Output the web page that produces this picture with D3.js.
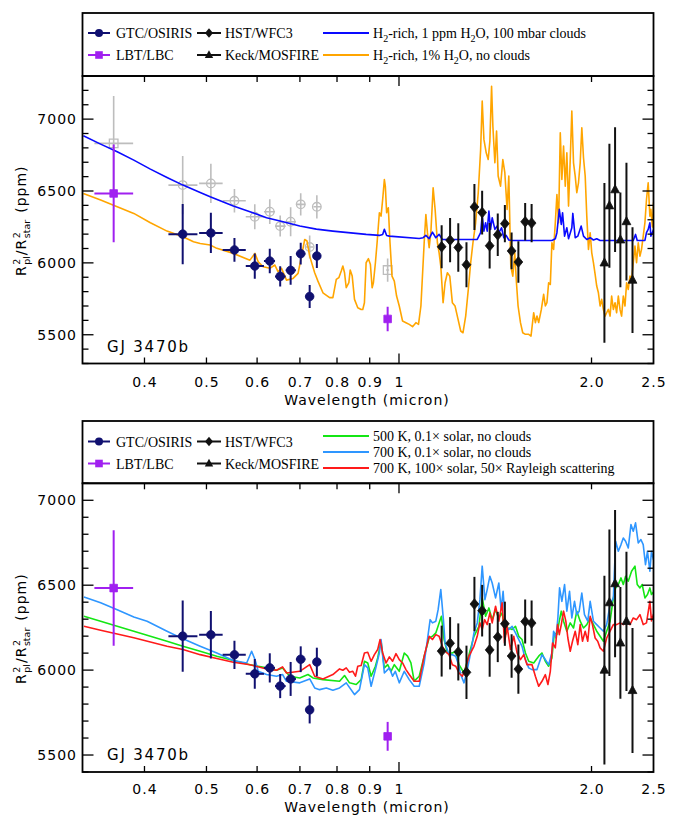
<!DOCTYPE html>
<html>
<head>
<meta charset="utf-8">
<script src="https://cdn.jsdelivr.net/npm/d3@7"></script>
<style>
  body { margin: 0; background: #fff; }
  svg { display: block; }
  .tick-label { font-family: "DejaVu Sans", sans-serif; font-size: 14px; letter-spacing: 1px; fill: #000; }
  .ax-title { font-family: "DejaVu Sans", sans-serif; font-size: 14px; letter-spacing: 1px; fill: #000; white-space: pre; }
  .ax-small { font-family: "DejaVu Sans", sans-serif; font-size: 9.5px; fill: #000; }
  .planet { font-family: "DejaVu Sans", sans-serif; font-size: 15px; letter-spacing: 1.8px; fill: #000; }
  .leg { font-family: "Liberation Serif", serif; font-size: 14px; fill: #000; }
</style>
</head>
<body>
<svg id="chart" width="679" height="816"></svg>
<script>
// ---------------- Observations ----------------
// GTC/OSIRIS spectrophotometric bins
const gtcWave  = [0.459, 0.508, 0.553, 0.595, 0.628, 0.652, 0.677, 0.702, 0.725, 0.744];
const gtcLo    = [0.436, 0.487, 0.530, 0.576, 0.615, 0.640, 0.665, 0.690, 0.714, 0.735];
const gtcHi    = [0.484, 0.530, 0.576, 0.615, 0.640, 0.665, 0.690, 0.714, 0.735, 0.755];
const gtcDepth = [6200, 6208, 6090, 5978, 6013, 5906, 5948, 6064, 5766, 6048];
const gtcErr   = [210, 140, 83, 88, 86, 71, 100, 76, 80, 84];

// LBT/LBC broad-band points
const lbtWave  = [0.358, 0.960];
const lbtLo    = [0.334, 0.955];
const lbtHi    = [0.384, 0.965];
const lbtDepth = [6483, 5610];
const lbtErr   = [340, 85];

// Previous (unshifted) optical depths, drawn in grey on the upper panel
const prevWave  = [0.358, 0.459, 0.508, 0.553, 0.595, 0.628, 0.652, 0.677, 0.702, 0.725, 0.744, 0.960];
const prevLo    = [0.334, 0.436, 0.487, 0.530, 0.576, 0.615, 0.640, 0.665, 0.690, 0.714, 0.735, 0.955];
const prevHi    = [0.384, 0.484, 0.530, 0.576, 0.615, 0.640, 0.665, 0.690, 0.714, 0.735, 0.755, 0.965];
const prevDepth = [6831, 6541, 6553, 6432, 6321, 6356, 6256, 6286, 6407, 6110, 6390, 5950];
const prevErr   = [330, 203, 136, 82, 87, 86, 73, 101, 78, 80, 81, 81];
const prevKind  = ["square", "circle", "circle", "circle", "circle", "circle", "circle", "circle", "circle", "circle", "circle", "square"];

// HST/WFC3 spectrum
const hstWave  = [1.166, 1.202, 1.238, 1.275, 1.312, 1.349, 1.386, 1.427, 1.464, 1.500, 1.537, 1.575, 1.612];
const hstDepth = [6112, 6158, 6107, 5987, 6389, 6350, 6119, 6195, 6273, 6083, 6006, 6286, 6277];
const hstErr   = [150, 154, 168, 157, 160, 152, 158, 148, 130, 128, 145, 130, 133];

// Keck/MOSFIRE K-band points
const keckWave  = [2.095, 2.133, 2.177, 2.219, 2.268, 2.318];
const keckDepth = [6000, 6397, 6509, 6160, 6287, 5880];
const keckErr   = [556, 431, 434, 329, 410, 368];

// ---------------- Models: [wavelength (micron), depth (ppm)] ----------------
// H2-rich, 1 ppm H2O, 100 mbar clouds
const modelCloudy = [
  [0.321,6884],[0.3416,6826],[0.3626,6773],[0.3849,6715],[0.4086,6652],[0.4338,6594],[0.4594,6541],
  [0.4888,6490],[0.5067,6460],[0.5508,6395],[0.5847,6356],[0.6208,6314],[0.6589,6286],[0.6996,6256],
  [0.7427,6235],[0.7882,6221],[0.8884,6198],[0.9318,6191],[0.9429,6198],[0.9487,6233],[0.9565,6191],
  [0.9659,6186],[1.0755,6170],[1.091,6175],[1.1016,6191],[1.1147,6168],[1.128,6214],[1.1418,6175],
  [1.1554,6198],[1.1692,6163],[1.3254,6163],[1.3417,6210],[1.3493,6330],[1.3576,6221],[1.3659,6279],
  [1.3738,6221],[1.3822,6360],[1.3906,6233],[1.3987,6314],[1.4123,6233],[1.4239,6256],[1.4326,6210],
  [1.4466,6244],[1.4585,6175],[1.4706,6191],[1.4849,6159],[1.5026,6156],[1.7342,6156],[1.7555,6168],
  [1.7657,6210],[1.7809,6372],[1.7937,6268],[1.8021,6349],[1.815,6186],[1.83,6244],[1.8412,6168],
  [1.8631,6244],[1.8698,6344],[1.886,6175],[1.9036,6186],[1.9269,6256],[1.9431,6186],[1.9662,6163],
  [1.9903,6175],[2.0138,6159],[2.0378,6168],[2.0628,6156],[2.3244,6156],[2.3435,6198],[2.3577,6156],
  [2.4239,6156],[2.4377,6210],[2.4526,6233],[2.4676,6279],[2.4765,6186],[2.5,6230]
];

// H2-rich, 1% H2O, no clouds
const modelClear = [
  [0.321,6483],[0.3416,6437],[0.3626,6390],[0.3849,6344],[0.4086,6279],[0.4338,6221],[0.4594,6182],
  [0.4772,6147],[0.4888,6135],[0.5067,6124],[0.519,6101],[0.5508,6066],[0.5847,6019],[0.5954,6066],
  [0.6024,6008],[0.6133,5973],[0.6282,5962],[0.6396,5985],[0.6472,5938],[0.6551,5962],[0.667,5880],
  [0.6829,5892],[0.6953,5927],[0.7038,6043],[0.7122,6163],[0.7181,6152],[0.7251,6047],[0.7382,5931],
  [0.7469,5873],[0.7605,5792],[0.779,5758],[0.7882,5758],[0.7979,5885],[0.8053,5897],[0.8123,5943],
  [0.817,5978],[0.822,5931],[0.827,5827],[0.8348,5862],[0.8389,5950],[0.845,5908],[0.852,5746],
  [0.8621,5688],[0.8727,5676],[0.8777,5676],[0.883,5723],[0.8884,6001],[0.8958,6029],[0.9022,5989],
  [0.9078,5827],[0.912,5862],[0.9186,6001],[0.9242,6140],[0.9318,6349],[0.9375,6325],[0.9429,6441],
  [0.9487,6580],[0.952,6534],[0.9565,6349],[0.9623,6383],[0.9682,6140],[0.9752,5908],[0.9833,5873],
  [0.9914,5769],[1.001,5700],[1.013,5595],[1.0254,5584],[1.0376,5572],[1.05,5556],[1.0628,5584],
  [1.0728,5572],[1.0821,5700],[1.0949,6140],[1.1016,6337],[1.1079,6210],[1.1147,6105],[1.1215,6210],
  [1.1308,6522],[1.1389,6372],[1.1484,6140],[1.1554,6070],[1.1624,5978],[1.1721,5723],[1.1805,5862],
  [1.1903,5931],[1.2006,5908],[1.2118,5723],[1.2236,5700],[1.2337,5630],[1.2488,5526],[1.2592,5514],
  [1.2714,5630],[1.2834,5815],[1.2945,6001],[1.3051,6140],[1.3178,6279],[1.3302,6488],[1.3417,6789],
  [1.3493,7125],[1.3576,6859],[1.3689,6766],[1.3787,6719],[1.3871,6847],[1.3956,7229],[1.4022,6951],
  [1.4123,6696],[1.4209,6917],[1.4291,6604],[1.4414,6534],[1.4533,6719],[1.4638,6627],[1.4758,6372],
  [1.4849,6604],[1.4956,5978],[1.5064,5908],[1.5171,6070],[1.5264,5862],[1.5353,5700],[1.5486,5584],
  [1.5613,5514],[1.5765,5503],[1.5952,5503],[1.6085,5491],[1.624,5653],[1.634,5584],[1.6435,5630],
  [1.6535,5585],[1.6695,5676],[1.6834,5781],[1.6937,5700],[1.7034,5723],[1.7138,5862],[1.7243,5850],
  [1.7342,6140],[1.7448,6094],[1.7555,6279],[1.7657,6476],[1.7764,6279],[1.7872,6905],[1.7975,6580],
  [1.8085,6812],[1.8196,6534],[1.83,6766],[1.8412,6395],[1.8525,6719],[1.8631,7056],[1.8745,6696],
  [1.886,6604],[1.8968,6488],[1.9084,6557],[1.9201,6696],[1.9313,6940],[1.9431,6731],[1.955,6604],
  [1.9662,6325],[1.9782,6094],[1.9903,6210],[2.0017,6070],[2.0138,6001],[2.0262,5920],[2.0378,5839],
  [2.0502,5792],[2.0628,5700],[2.0746,5746],[2.0873,5676],[2.0999,5630],[2.1121,5653],[2.1251,5676],
  [2.1381,5630],[2.1503,5769],[2.1635,5676],[2.1768,5723],[2.1892,5653],[2.2026,5769],[2.2161,5676],
  [2.2288,5630],[2.2424,5769],[2.2561,5700],[2.2692,5862],[2.2829,5815],[2.2969,5908],[2.3102,5885],
  [2.3244,6001],[2.3386,6117],[2.352,6001],[2.3664,6140],[2.3809,6047],[2.3945,6094],[2.4091,6186],
  [2.4239,6279],[2.4377,6441],[2.4526,6557],[2.4676,6325],[2.4765,6372],[2.49,6250],[2.5,6420]
];

// 500 K, 0.1x solar, no clouds
const model500 = [
  [0.3217,6317],[0.3416,6288],[0.3626,6258],[0.3849,6229],[0.4086,6199],[0.4338,6170],[0.4594,6141],
  [0.4888,6111],[0.519,6082],[0.5508,6056],[0.5847,6032],[0.6208,6013],[0.6435,5999],[0.6575,6013],
  [0.6749,5964],[0.6996,5954],[0.7206,5974],[0.7337,5954],[0.7605,5944],[0.8074,5934],[0.822,5968],
  [0.8368,5925],[0.8572,5915],[0.8727,5944],[0.883,6052],[0.8936,6042],[0.9045,5964],[0.9186,6023],
  [0.9262,6072],[0.9375,6170],[0.9487,6013],[0.96,6032],[0.9717,5993],[0.9833,6032],[1.001,5993],
  [1.0192,6101],[1.0313,6082],[1.0439,6042],[1.0563,5935],[1.0755,5964],[1.0949,6082],[1.1147,6190],
  [1.128,6199],[1.1418,6219],[1.1554,6278],[1.165,6317],[1.1763,6180],[1.1903,6101],[1.2118,6101],
  [1.2267,6111],[1.2412,6032],[1.2638,5983],[1.2866,6091],[1.3098,6199],[1.3335,6258],[1.3493,6425],
  [1.3659,6317],[1.3822,6366],[1.3987,6297],[1.4158,6356],[1.4326,6307],[1.4496,6337],[1.4674,6209],
  [1.4849,6248],[1.5026,6239],[1.521,6258],[1.5391,6199],[1.5574,6180],[1.5765,6101],[1.5952,6052],
  [1.624,6042],[1.6535,6082],[1.6731,6101],[1.6937,6052],[1.7138,6023],[1.7342,6072],[1.7492,6219],
  [1.7657,6209],[1.7809,6288],[1.7937,6347],[1.8085,6288],[1.83,6229],[1.8525,6278],[1.8745,6248],
  [1.8968,6347],[1.9201,6288],[1.9431,6248],[1.9662,6268],[1.9903,6307],[2.0138,6268],[2.0378,6229],
  [2.0628,6199],[2.0873,6170],[2.1121,6229],[2.1381,6288],[2.1635,6425],[2.1814,6484],[2.2026,6504],
  [2.224,6543],[2.2424,6504],[2.261,6553],[2.2829,6523],[2.3102,6582],[2.3386,6612],[2.3578,6504],
  [2.3809,6484],[2.4003,6504],[2.4239,6425],[2.4464,6445],[2.4676,6484],[2.4817,6445],[2.5,6460]
];

// 700 K, 0.1x solar, no clouds
const model700 = [
  [0.3217,6431],[0.3416,6396],[0.3626,6356],[0.3849,6313],[0.4038,6288],[0.4338,6229],[0.4594,6184],
  [0.4888,6141],[0.519,6101],[0.5508,6056],[0.5779,6042],[0.5883,6111],[0.5954,6062],[0.6024,5993],
  [0.6208,5974],[0.6435,5964],[0.6575,5974],[0.667,5934],[0.6996,5925],[0.7251,5948],[0.7382,5895],
  [0.7515,5885],[0.7698,5895],[0.7882,5881],[0.8074,5895],[0.827,5925],[0.852,5856],[0.8674,5885],
  [0.883,6032],[0.8936,6013],[0.9045,5905],[0.9186,6003],[0.9318,6101],[0.9375,6180],[0.9487,5983],
  [0.9659,6013],[0.9773,5964],[0.9868,5993],[1.001,5925],[1.0192,5993],[1.0376,5944],[1.0563,5905],
  [1.0755,5905],[1.0949,6042],[1.1079,6180],[1.1187,6297],[1.128,6278],[1.1418,6288],[1.1513,6356],
  [1.1624,6474],[1.1734,6297],[1.1805,6160],[1.1976,6091],[1.2118,6091],[1.2267,6082],[1.2412,6023],
  [1.2488,5974],[1.2638,5925],[1.2788,6003],[1.2972,6121],[1.3098,6219],[1.3254,6278],[1.3383,6415],
  [1.3493,6612],[1.3625,6415],[1.3738,6474],[1.3871,6553],[1.3987,6513],[1.4158,6425],[1.4326,6513],
  [1.4444,6356],[1.4548,6464],[1.4674,6258],[1.4849,6239],[1.5026,6258],[1.521,6219],[1.5391,6180],
  [1.5574,6140],[1.5765,6062],[1.5952,6013],[1.6143,6003],[1.6435,6003],[1.6731,6091],[1.6937,6062],
  [1.7138,6032],[1.7342,6101],[1.7448,6229],[1.7594,6189],[1.7718,6307],[1.7827,6484],[1.7975,6405],
  [1.815,6504],[1.83,6347],[1.8478,6464],[1.8631,6307],[1.8812,6405],[1.8968,6327],[1.9131,6347],
  [1.9313,6454],[1.9499,6327],[1.9732,6288],[1.9903,6405],[2.0138,6288],[2.0378,6268],[2.0628,6248],
  [2.0873,6229],[2.1121,6268],[2.1381,6386],[2.1635,6425],[2.1814,6759],[2.2026,6700],[2.224,6739],
  [2.2424,6778],[2.261,6759],[2.2829,6719],[2.3051,6857],[2.3244,6818],[2.3435,6867],[2.3664,6749],
  [2.3892,6769],[2.4091,6739],[2.429,6621],[2.4464,6700],[2.4676,6582],[2.4817,6700],[2.5,6650]
];

// 700 K, 100x solar, 50x Rayleigh scattering
const model700Ray = [
  [0.3217,6258],[0.3416,6235],[0.3626,6213],[0.3849,6190],[0.4086,6166],[0.4338,6141],[0.4594,6121],
  [0.4888,6091],[0.519,6068],[0.5508,6046],[0.5847,6032],[0.6208,6007],[0.6435,5999],[0.6575,6019],
  [0.667,5983],[0.6996,5993],[0.7251,6032],[0.7382,5964],[0.7605,5948],[0.7882,5974],[0.8074,6007],
  [0.817,5999],[0.827,6013],[0.8368,5987],[0.8468,5993],[0.855,5964],[0.8621,6023],[0.8727,6027],
  [0.883,6101],[0.8936,6105],[0.9045,6052],[0.9153,6091],[0.9262,6121],[0.9342,6180],[0.9429,6101],
  [0.9545,6042],[0.9659,6078],[0.9773,6052],[0.9893,6097],[1.001,6062],[1.013,6042],[1.0254,6003],
  [1.0376,5974],[1.0563,5934],[1.0755,5934],[1.0949,6082],[1.1147,6199],[1.128,6180],[1.1418,6209],
  [1.1554,6199],[1.1692,6140],[1.1805,6111],[1.1976,6091],[1.2118,6032],[1.2267,6023],[1.2412,5983],
  [1.2561,5964],[1.2714,6013],[1.2866,6082],[1.3098,6140],[1.3254,6199],[1.3383,6278],[1.3493,6239],
  [1.361,6297],[1.3738,6268],[1.3871,6337],[1.3987,6278],[1.4158,6376],[1.4326,6288],[1.4496,6396],
  [1.4621,6160],[1.4758,6258],[1.494,6121],[1.5118,6199],[1.5298,6101],[1.5486,6062],[1.567,6091],
  [1.5856,6032],[1.6143,6032],[1.634,5964],[1.6535,5905],[1.6731,5934],[1.6937,5973],[1.7095,5915],
  [1.7243,5993],[1.7386,6160],[1.7555,6131],[1.77,6268],[1.7809,6209],[1.7937,6268],[1.8085,6347],
  [1.8234,6288],[1.8366,6189],[1.8525,6111],[1.8677,6170],[1.886,6229],[1.9036,6150],[1.9201,6268],
  [1.936,6170],[1.955,6229],[1.9732,6170],[1.9903,6317],[2.0066,6268],[2.0262,6189],[2.0451,6170],
  [2.0628,6131],[2.0873,6111],[2.1121,6189],[2.1381,6229],[2.1635,6268],[2.1892,6268],[2.2161,6278],
  [2.2424,6268],[2.2692,6288],[2.2969,6268],[2.3244,6307],[2.352,6297],[2.3809,6327],[2.4091,6268],
  [2.4377,6278],[2.4676,6405],[2.4817,6290],[2.5,6330]
];

// ---------------- Axes ----------------
const xTickValues = [0.4, 0.5, 0.6, 0.7, 0.8, 0.9, 1, 2, 2.5];
const xTickLabels = ["0.4", "0.5", "0.6", "0.7", "0.8", "0.9", "1", "2.0", "2.5"];
const xMajorTicks = [1];
const xMinorTicks = [0.4, 0.5, 0.6, 0.7, 0.8, 0.9, 2];
const planetName = "GJ 3470b";

// ---------------- Styles ----------------
const C = {
  navy: "#101070", purple: "#a020f0", black: "#111", grey: "#bdbdbd",
  blue: "#0a0aff", orange: "#ffa500", green: "#14e614", sky: "#2e96ff", red: "#ff1a1a"
};

const svg = d3.select("#chart");
const x = d3.scaleLog().domain([0.32, 2.5]).range([82.5, 653.5]);
const plotLeft = 82.5, plotRight = 653.5;

const panels = [
  { id: "p1", top: 76, bottom: 363.5, yDom: [5300, 7300], boxTop: 13, tickLabelY: 386.5, titleY: 405, nameY: 351.5,
    rowsL: [33, 55], rowsR: [33, 55],
    models: [
      { data: modelCloudy, color: C.blue, label: [["H", 0], ["2", 1], ["-rich, 1 ppm H", 0], ["2", 1], ["O, 100 mbar clouds", 0]] },
      { data: modelClear, color: C.orange, label: [["H", 0], ["2", 1], ["-rich, 1% H", 0], ["2", 1], ["O, no clouds", 0]] }
    ],
    showPrev: true },
  { id: "p2", top: 483.3, bottom: 772, yDom: [5400, 7100], boxTop: 421, tickLabelY: 794, titleY: 812, nameY: 760,
    rowsL: [441.5, 463.5], rowsR: [436, 452, 468],
    models: [
      { data: model500, color: C.green, label: [["500 K, 0.1\u00d7 solar, no clouds", 0]] },
      { data: model700, color: C.sky, label: [["700 K, 0.1\u00d7 solar, no clouds", 0]] },
      { data: model700Ray, color: C.red, label: [["700 K, 100\u00d7 solar, 50\u00d7 Rayleigh scattering", 0]] }
    ],
    showPrev: false }
];

// marker path generators (centred on 0,0)
function markerPath(kind, s) {
  if (kind === "circle") return d3.symbol(d3.symbolCircle, Math.PI * s * s)();
  if (kind === "square") return `M${-s},${-s}H${s}V${s}H${-s}Z`;
  if (kind === "diamond") return `M0,${-s * 1.2}L${s},0L0,${s * 1.2}L${-s},0Z`;
  if (kind === "triangle") return `M0,${-s * 1.15}L${s},${s * 0.7}L${-s},${s * 0.7}Z`;
}

function drawSeries(g, y, wave, depth, err, lo, hi, kind, color, size, barW, filled) {
  const s = g.append("g");
  wave.forEach((w, i) => {
    s.append("line").attr("x1", x(w)).attr("x2", x(w))
      .attr("y1", y(depth[i] - err[i])).attr("y2", y(depth[i] + err[i]))
      .attr("stroke", color).attr("stroke-width", barW);
    if (lo && hi) {
      s.append("line").attr("x1", x(lo[i])).attr("x2", x(hi[i]))
        .attr("y1", y(depth[i])).attr("y2", y(depth[i]))
        .attr("stroke", color).attr("stroke-width", barW);
    }
    const k = Array.isArray(kind) ? kind[i] : kind;
    s.append("path").attr("d", markerPath(k, size))
      .attr("transform", `translate(${x(w)},${y(depth[i])})`)
      .attr("fill", filled ? color : "none")
      .attr("stroke", color).attr("stroke-width", filled ? 0.8 : 1.3);
  });
}

function legendText(g, xPos, yPos, segs) {
  const t = g.append("text").attr("class", "leg").attr("x", xPos).attr("y", yPos + 5);
  segs.forEach((sg, i) => {
    const prevSub = i > 0 && segs[i - 1][1];
    const ts = t.append("tspan").text(sg[0]);
    if (sg[1]) ts.attr("dy", 3.5).attr("font-size", "10px");
    else if (prevSub) ts.attr("dy", -3.5);
  });
}

function yAxisLabel(g, cx, cy) {
  const grp = g.append("g").attr("transform", `translate(${cx},${cy}) rotate(-90)`);
  const inner = grp.append("g");
  let pos = 0;
  const main = t => {
    const el = inner.append("text").attr("class", "ax-title").attr("x", pos).attr("y", 0).text(t);
    pos += el.node().getComputedTextLength();
  };
  const stack = (sup, sub) => {
    const a = inner.append("text").attr("class", "ax-small").attr("x", pos + 0.5).attr("y", -6).text(sup);
    const b = inner.append("text").attr("class", "ax-small").attr("x", pos + 0.5).attr("y", 4).text(sub);
    pos += Math.max(a.node().getComputedTextLength(), b.node().getComputedTextLength()) + 1.5;
  };
  main("R"); stack("2", "pl"); main("/R"); stack("2", "star");
  pos += 6;
  main("(ppm)");
  inner.attr("transform", `translate(${-pos / 2},0)`);
}

panels.forEach(P => {
  const y = d3.scaleLinear().domain(P.yDom).range([P.bottom, P.top]);
  const g = svg.append("g");

  // clip region for spectra
  svg.append("defs").append("clipPath").attr("id", "clip-" + P.id)
    .append("rect").attr("x", plotLeft).attr("y", P.top)
    .attr("width", plotRight - plotLeft).attr("height", P.bottom - P.top);

  const inside = g.append("g").attr("clip-path", `url(#clip-${P.id})`);

  if (P.showPrev) {
    drawSeries(inside, y, prevWave, prevDepth, prevErr, prevLo, prevHi, prevKind, C.grey, 4.3, 1.6, false);
  }

  const line = d3.line().x(d => x(d[0])).y(d => y(d[1]));
  const order = P.id === "p1" ? [1, 0] : [0, 1, 2];
  order.forEach(j => {
    const m = P.models[j];
    inside.append("path").datum(m.data).attr("d", line)
      .attr("fill", "none").attr("stroke", m.color).attr("stroke-width", 1.6)
      .attr("stroke-linejoin", "round");
  });

  drawSeries(inside, y, gtcWave, gtcDepth, gtcErr, gtcLo, gtcHi, "circle", C.navy, 4.3, 2, true);
  drawSeries(inside, y, lbtWave, lbtDepth, lbtErr, lbtLo, lbtHi, "square", C.purple, 3.8, 2, true);
  drawSeries(inside, y, hstWave, hstDepth, hstErr, null, null, "diamond", C.black, 4.4, 2, true);
  drawSeries(inside, y, keckWave, keckDepth, keckErr, null, null, "triangle", C.black, 4.4, 2, true);

  // ticks
  const tk = g.append("g").attr("stroke", "#000").attr("stroke-width", 1.3);
  d3.range(P.yDom[0], P.yDom[1] + 1, 100).forEach(v => {
    const major = v % 500 === 0;
    const len = major ? 11 : 6;
    tk.append("line").attr("x1", plotLeft).attr("x2", plotLeft + len).attr("y1", y(v)).attr("y2", y(v));
    tk.append("line").attr("x1", plotRight).attr("x2", plotRight - len).attr("y1", y(v)).attr("y2", y(v));
  });
  xMinorTicks.concat(xMajorTicks).forEach(w => {
    const len = xMajorTicks.includes(w) ? 10 : 6;
    tk.append("line").attr("x1", x(w)).attr("x2", x(w)).attr("y1", P.bottom).attr("y2", P.bottom - len);
    tk.append("line").attr("x1", x(w)).attr("x2", x(w)).attr("y1", P.top).attr("y2", P.top + len);
  });

  // frame
  g.append("rect").attr("x", plotLeft).attr("y", P.top)
    .attr("width", plotRight - plotLeft).attr("height", P.bottom - P.top)
    .attr("fill", "none").attr("stroke", "#000").attr("stroke-width", 1.8);

  // y tick labels
  y.ticks(4).filter(v => v % 500 === 0).forEach(v => {
    g.append("text").attr("class", "tick-label").attr("x", 77).attr("y", y(v) + 5)
      .attr("text-anchor", "end").text(v);
  });
  // x tick labels
  xTickValues.forEach((w, i) => {
    g.append("text").attr("class", "tick-label").attr("x", x(w) + 0.5).attr("y", P.tickLabelY)
      .attr("text-anchor", "middle").text(xTickLabels[i]);
  });
  g.append("text").attr("class", "ax-title").attr("x", (plotLeft + plotRight) / 2 - 1).attr("y", P.titleY)
    .attr("text-anchor", "middle").text("Wavelength (micron)");
  yAxisLabel(g, 26, (P.top + P.bottom) / 2 + 1);

  g.append("text").attr("class", "planet").attr("x", 107).attr("y", P.nameY).text(planetName);

  // legend box
  const L = g.append("g");
  L.append("rect").attr("x", plotLeft).attr("y", P.boxTop)
    .attr("width", plotRight - plotLeft).attr("height", P.top - P.boxTop)
    .attr("fill", "none").attr("stroke", "#000").attr("stroke-width", 1.8);

  const dataEntries = [
    { label: "GTC/OSIRIS", kind: "circle", color: C.navy, col: 0, row: 0, size: 4 },
    { label: "LBT/LBC", kind: "square", color: C.purple, col: 0, row: 1, size: 3.8 },
    { label: "HST/WFC3", kind: "diamond", color: C.black, col: 1, row: 0, size: 4 },
    { label: "Keck/MOSFIRE", kind: "triangle", color: C.black, col: 1, row: 1, size: 4.2 }
  ];
  const colX = [[88, 110, 116], [197, 221, 225]];
  dataEntries.forEach(e => {
    const yy = P.rowsL[e.row];
    const [a, b, t] = colX[e.col];
    L.append("line").attr("x1", a).attr("x2", b).attr("y1", yy).attr("y2", yy)
      .attr("stroke", e.color).attr("stroke-width", 2);
    L.append("path").attr("d", markerPath(e.kind, e.size))
      .attr("transform", `translate(${(a + b) / 2},${yy})`).attr("fill", e.color);
    legendText(L, t, yy, [[e.label, 0]]);
  });
  P.models.forEach((m, j) => {
    const yy = P.rowsR[j];
    L.append("line").attr("x1", 323).attr("x2", 369).attr("y1", yy).attr("y2", yy)
      .attr("stroke", m.color).attr("stroke-width", 2);
    legendText(L, 373, yy, m.label);
  });
});
</script>
</body>
</html>
